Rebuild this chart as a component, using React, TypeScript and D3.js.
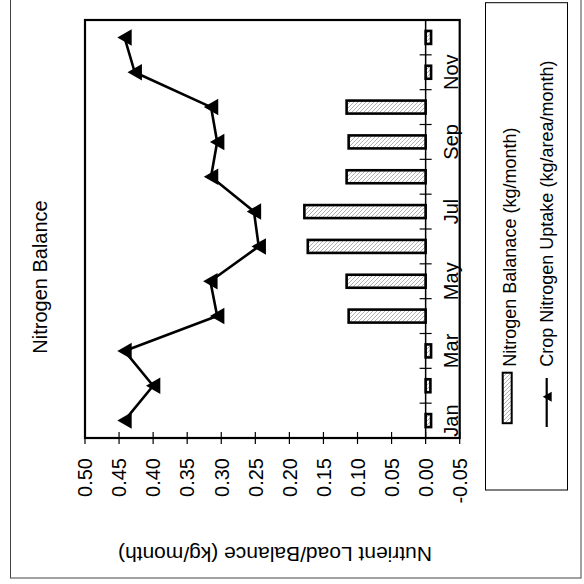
import React from 'react';
import * as d3 from 'd3';

const months = ['Jan', 'Feb', 'Mar', 'Apr', 'May', 'Jun', 'Jul', 'Aug', 'Sep', 'Oct', 'Nov', 'Dec'];
const monthLabels = ['Jan', 'Mar', 'May', 'Jul', 'Sep', 'Nov'];
const balance = [-0.008, -0.007, -0.008, 0.113, 0.116, 0.173, 0.178, 0.116, 0.113, 0.116, -0.008, -0.008];
const uptake = [0.442, 0.4, 0.442, 0.306, 0.316, 0.245, 0.252, 0.315, 0.306, 0.315, 0.427, 0.442];
const valueTicks = [0.5, 0.45, 0.4, 0.35, 0.3, 0.25, 0.2, 0.15, 0.1, 0.05, 0.0, -0.05];
const title = 'Nitrogen Balance';
const valueTitle = 'Nutrient Load/Balance (kg/month)';
const legendBar = 'Nitrogen Balanace (kg/month)';
const legendLine = 'Crop Nitrogen Uptake (kg/area/month)';

const FONT = '"Liberation Sans", Arial, sans-serif';

function tri(cx: number, cy: number, w: number, h: number) {
  return `M${cx - w / 2},${cy} L${cx + w / 2},${cy - h / 2} L${cx + w / 2},${cy + h / 2} Z`;
}

const fmt = (t: number) => d3.format('.2f')(t).replace('\u2212', '-');

export default function App() {
  const left = 85, right = 459.7, top = 20, bottom = 438;
  const x = d3.scaleLinear().domain([0.5, -0.05]).range([left, right]);
  const y = d3.scaleBand<string>().domain(months).range([bottom, top]).paddingInner(0).paddingOuter(0);
  const bw = y.bandwidth();
  const barH = 13;
  const x0 = x(0);
  const line = d3
    .line<number>()
    .x((d) => x(d))
    .y((_, i) => (y(months[i]) as number) + bw / 2);

  const boundaries = months.map((m) => y(m) as number).concat([bottom]);

  return (
    <svg width={584} height={584} style={{ position: 'absolute', left: 0, top: 0 }} fontFamily={FONT}>
      <defs>
        <pattern id="hatch" patternUnits="userSpaceOnUse" width={4} height={4}>
          <rect width={4} height={4} fill="#fff" />
          <path d="M-1,1 l2,-2 M0,4 l4,-4 M3,5 l2,-2" stroke="#a8a8a8" strokeWidth={0.9} />
        </pattern>
      </defs>
      <rect x={0} y={0} width={584} height={584} fill="#fff" />
      {/* outer border */}
      <rect x={10.5} y={-2} width={570.5} height={580} fill="none" stroke="#444" strokeWidth={1} />

      {/* title */}
      <text transform={`translate(46.7,277) rotate(-90)`} textAnchor="middle" fontSize={20} fill="#000">
        {title}
      </text>

      {/* bars */}
      {balance.map((v, i) => {
        const yc = (y(months[i]) as number) + bw / 2;
        const xv = x(v);
        return (
          <rect
            key={'b' + i}
            x={Math.min(xv, x0)}
            y={yc - barH / 2}
            width={Math.abs(xv - x0)}
            height={barH}
            fill="url(#hatch)"
            stroke="#000"
            strokeWidth={2.6}
          />
        );
      })}

      {/* category axis (zero line) */}
      <line x1={x0} x2={x0} y1={top} y2={bottom} stroke="#000" strokeWidth={1.5} />
      {boundaries.map((b, i) => (
        <line key={'ct' + i} x1={x0 - 6} x2={x0 + 6} y1={b} y2={b} stroke="#000" strokeWidth={1.2} />
      ))}

      {/* plot border */}
      <rect x={left} y={top} width={right - left} height={bottom - top} fill="none" stroke="#000" strokeWidth={2.2} />

      {/* value axis ticks */}
      {valueTicks.map((t, i) => (
        <line key={'vt' + i} x1={x(t)} x2={x(t)} y1={bottom - 6} y2={bottom + 6} stroke="#000" strokeWidth={1.2} />
      ))}
      {valueTicks.map((t, i) => (
        <text
          key={'vl' + i}
          transform={`translate(${x(t) + 7.3},458) rotate(-90)`}
          textAnchor="end"
          fontSize={20}
          fill="#000"
        >
          {fmt(t)}
        </text>
      ))}
      <text transform={`translate(275,547) rotate(180)`} textAnchor="middle" fontSize={21} fill="#000">
        {valueTitle}
      </text>

      {/* month labels */}
      {monthLabels.map((m) => (
        <text
          key={'ml' + m}
          transform={`translate(457.5,${(y(m) as number) + bw / 2}) rotate(-90)`}
          textAnchor="middle"
          fontSize={20}
          fill="#000"
        >
          {m}
        </text>
      ))}

      {/* line series */}
      <path d={line(uptake) || ''} fill="none" stroke="#000" strokeWidth={2.6} strokeLinejoin="round" />
      {uptake.map((v, i) => (
        <path key={'m' + i} d={tri(x(v), (y(months[i]) as number) + bw / 2, 14.4, 16.5)} fill="#000" />
      ))}

      {/* legend */}
      <rect x={485.5} y={2.7} width={82} height={487.3} fill="#fff" stroke="#000" strokeWidth={1} />
      <rect x={502.7} y={372.7} width={9} height={50.5} fill="url(#hatch)" stroke="#000" strokeWidth={2} />
      <text transform={`translate(516,366.7) rotate(-90)`} textAnchor="start" fontSize={18} fill="#000">
        {legendBar}
      </text>
      <line x1={546.7} x2={546.7} y1={378} y2={427} stroke="#000" strokeWidth={2.2} />
      <path d={tri(547.2, 396.7, 9, 10)} fill="#000" />
      <text transform={`translate(553,366.7) rotate(-90)`} textAnchor="start" fontSize={18} fill="#000">
        {legendLine}
      </text>
    </svg>
  );
}
